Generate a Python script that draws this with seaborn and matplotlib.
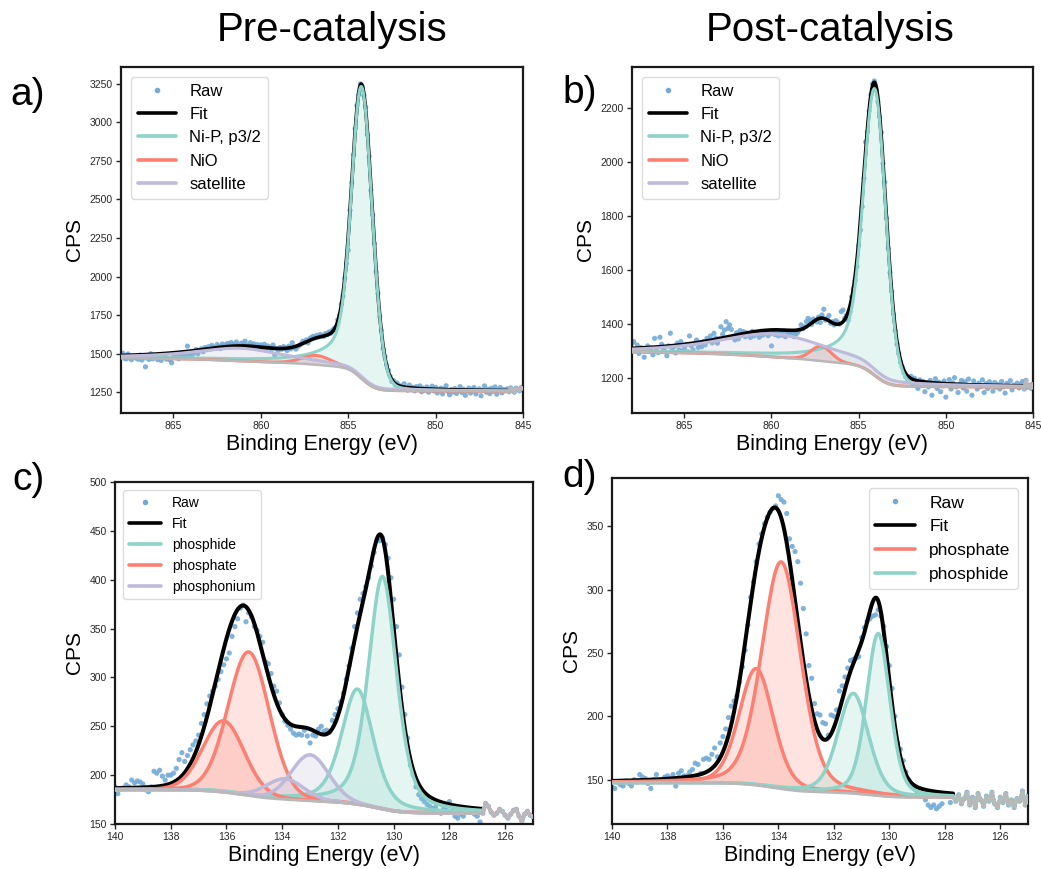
import numpy as np
import matplotlib
matplotlib.use("Agg")
import matplotlib.pyplot as plt
from matplotlib.lines import Line2D
import seaborn as sns

# ---------------------------------------------------------------- styling
sns.set_theme(style="ticks")
plt.rcParams["font.family"] = ["Liberation Sans", "DejaVu Sans"]
plt.rcParams["text.color"] = "black"
plt.rcParams["axes.labelcolor"] = "black"

TEAL, SALMON, LAVENDER = "#8dd3c7", "#fb8072", "#bebada"
RAW_BLUE = "#72aad6"
BG_GREY = "#b8b8b8"

# ---------------------------------------------------------------- Ni 2p, pre-catalysis
ni_pre_scan = (868.0, 845.0)          # first / last energy of the 0.1 eV scan
ni_pre_window = (868.0, 845.9)        # fitted region
ni_pre_shirley = (1470, 1255)         # background end points (high BE, low BE)
ni_pre_counts = [
    1478, 1502, 1470, 1465, 1497, 1472, 1460, 1481, 1476, 1468,
    1463, 1490, 1458, 1475, 1414, 1470, 1462, 1499, 1466, 1472,
    1487, 1460, 1471, 1455, 1478, 1490, 1464, 1469, 1458, 1440,
    1483, 1495, 1474, 1466, 1490, 1503, 1479, 1497, 1548, 1485,
    1503, 1494, 1509, 1526, 1499, 1520, 1531, 1512, 1538, 1525,
    1544, 1529, 1553, 1540, 1535, 1558, 1547, 1532, 1562, 1550,
    1557, 1566, 1549, 1571, 1560, 1553, 1575, 1558, 1546, 1568,
    1561, 1580, 1555, 1549, 1570, 1552, 1563, 1545, 1558, 1540,
    1556, 1537, 1560, 1528, 1549, 1541, 1526, 1555, 1490, 1532,
    1521, 1539, 1528, 1545, 1533, 1519, 1548, 1530, 1570, 1541,
    1529, 1544, 1553, 1562, 1580, 1574, 1588, 1569, 1597, 1605,
    1612, 1603, 1618, 1609, 1624, 1615, 1611, 1630, 1622, 1640,
    1632, 1652, 1663, 1671, 1719, 1748, 1822, 1875, 1990, 2085,
    2170, 2430, 2610, 2790, 2960, 3110, 3180, 3250, 3230, 3175,
    3100, 2920, 2780, 2560, 2400, 2213, 2030, 1890, 1740, 1650,
    1530, 1480, 1425, 1391, 1352, 1318, 1324, 1296, 1309, 1281,
    1290, 1266, 1304, 1273, 1262, 1295, 1270, 1281, 1258, 1285,
    1266, 1290, 1252, 1275, 1261, 1283, 1249, 1270, 1288, 1257,
    1280, 1244, 1262, 1275, 1238, 1269, 1291, 1255, 1232, 1266,
    1250, 1273, 1241, 1262, 1285, 1247, 1268, 1229, 1259, 1276,
    1244, 1266, 1280, 1238, 1257, 1271, 1226, 1262, 1290, 1249,
    1268, 1240, 1275, 1255, 1283, 1236, 1262, 1279, 1245, 1266,
    1258, 1271, 1252, 1277, 1262, 1249, 1275, 1266, 1258, 1280, 1270,
]
ni_pre_names = ["Ni-P, p3/2", "NiO", "satellite"]
ni_pre_group = [0, 1, 2]
ni_pre_centers = [854.24, 856.8, 861.1]
ni_pre_heights = [1895, 60, 82]
ni_pre_fwhm = [1.45, 2.0, 6.4]        # low-BE side
ni_pre_eta = [0.1, 0.2, 0.9]
ni_pre_fwhm_hi = [1.25, 2.0, 6.4]     # high-BE side
ni_pre_eta_hi = [0.2, 0.2, 0.9]
ni_pre_tail_hi = [2.8, 2.0, 6.4]

# ---------------------------------------------------------------- Ni 2p, post-catalysis
ni_post_scan = (868.0, 845.0)
ni_post_window = (868.0, 845.6)
ni_post_shirley = (1295, 1165)
ni_post_counts = [
    1328, 1334, 1303, 1321, 1290, 1312, 1308, 1276, 1299, 1318,
    1297, 1311, 1285, 1346, 1309, 1293, 1350, 1324, 1302, 1297,
    1281, 1318, 1365, 1306, 1315, 1292, 1328, 1303, 1334, 1300,
    1309, 1322, 1296, 1355, 1318, 1303, 1327, 1340, 1312, 1321,
    1315, 1334, 1322, 1346, 1338, 1355, 1329, 1365, 1347, 1328,
    1344, 1389, 1361, 1377, 1408, 1383, 1396, 1379, 1352, 1340,
    1367, 1344, 1375, 1358, 1371, 1352, 1366, 1360, 1349, 1372,
    1355, 1368, 1361, 1350, 1372, 1358, 1364, 1365, 1356, 1362,
    1318, 1366, 1360, 1371, 1355, 1363, 1358, 1374, 1352, 1361,
    1365, 1357, 1370, 1352, 1362, 1368, 1377, 1396, 1382, 1389,
    1408, 1420, 1413, 1398, 1418, 1412, 1407, 1425, 1405, 1433,
    1454, 1414, 1420, 1431, 1402, 1408, 1396, 1412, 1405, 1399,
    1445, 1451, 1420, 1431, 1413, 1445, 1500, 1530, 1561, 1612,
    1690, 1748, 1835, 1941, 2075, 2112, 2190, 2250, 2290, 2301,
    2268, 2225, 2168, 2110, 1995, 1926, 1792, 1680, 1590, 1520,
    1435, 1375, 1325, 1290, 1258, 1239, 1218, 1203, 1196, 1188,
    1205, 1180, 1198, 1176, 1160, 1192, 1172, 1186, 1148, 1179,
    1166, 1190, 1135, 1175, 1196, 1160, 1183, 1148, 1170, 1188,
    1128, 1172, 1193, 1158, 1181, 1200, 1166, 1145, 1177, 1190,
    1162, 1185, 1150, 1195, 1170, 1135, 1188, 1173, 1158, 1180,
    1167, 1192, 1145, 1178, 1160, 1185, 1171, 1150, 1182, 1165,
    1175, 1158, 1186, 1166, 1143, 1179, 1170, 1189, 1155, 1173,
    1168, 1180, 1162, 1175, 1186, 1158, 1190, 1165, 1172, 1160, 1177,
]
ni_post_names = ["Ni-P, p3/2", "NiO", "satellite"]
ni_post_group = [0, 1, 2]
ni_post_centers = [854.08, 857.15, 859.8]
ni_post_heights = [1064, 55, 86]
ni_post_fwhm = [1.48, 1.4, 7.5]
ni_post_eta = [0.1, 0.1, 0.7]
ni_post_fwhm_hi = [1.4, 1.4, 7.5]
ni_post_eta_hi = [0.25, 0.1, 0.7]
ni_post_tail_hi = [2.8, 1.4, 7.5]

# ---------------------------------------------------------------- P 2p, pre-catalysis
p_pre_scan = (140.0, 125.0)
p_pre_window = (140.0, 126.8)
p_pre_shirley = (185, 161)
p_pre_counts = [
    188, 181, 186, 187, 190, 188, 195, 192, 194, 193,
    191, 185, 183, 188, 204, 202, 205, 199, 195, 200,
    200, 202, 207, 216, 223, 214, 220, 226, 231, 235,
    241, 253, 262, 273, 281, 286, 291, 298, 306, 313,
    319, 325, 342, 352, 360, 371, 374, 357, 366, 362,
    352, 348, 342, 336, 316, 314, 304, 291, 286, 274,
    262, 255, 251, 247, 243, 241, 242, 241, 246, 240,
    233, 241, 240, 247, 250, 245, 246, 244, 256, 262,
    268, 275, 284, 298, 312, 330, 352, 366, 380, 386,
    393, 402, 414, 428, 441, 440, 443, 436, 422, 402,
    380, 352, 323, 290, 262, 238, 210, 200, 188, 180,
    176, 173, 170, 168, 166, 167, 163, 161, 166, 164,
    173, 163, 158, 156, 160, 158, 166, 165, 164, 160,
    158, 152, 161,
    171, 168, 162, 159, 161, 165, 163, 159, 156, 160,
    164, 165, 158, 153, 160, 163, 159, 157,
]
p_pre_names = ["phosphide", "phosphate", "phosphonium"]
p_pre_group = [0, 0, 1, 1, 2, 2]
p_pre_centers = [130.4, 131.3, 135.2, 136.1, 133.0, 133.9]
p_pre_heights = [238, 118, 147, 73, 47, 21]
p_pre_fwhm = [1.2, 1.35, 1.75, 1.75, 1.6, 1.6]
p_pre_eta = [0.45, 0.45, 0.1, 0.1, 0.1, 0.1]

# ---------------------------------------------------------------- P 2p, post-catalysis
p_post_scan = (140.0, 125.0)
p_post_window = (140.0, 127.7)
p_post_shirley = (147.5, 136)
p_post_counts = [
    144, 143, 148, 146, 145, 149, 147, 145, 150, 148,
    154, 152, 151, 147, 143, 150, 154, 149, 149, 152,
    153, 151, 154, 145, 155, 157, 153, 153, 156, 158,
    163, 162, 155, 166, 167, 166, 170, 175, 168, 179,
    184, 190, 199, 208, 212, 216, 227, 239, 252, 272,
    294, 306, 322, 336, 344, 352, 357, 361, 364, 366,
    374, 371, 369, 360, 340, 334, 330, 322, 305, 285,
    265, 240, 230, 210, 202, 201, 195, 194, 185, 201,
    200, 205, 220, 224, 231, 238, 244, 245, 246, 247,
    262, 270, 275, 277, 279, 280, 284, 279, 271, 255,
    240, 222, 200, 179, 174, 165, 156, 150, 146, 143,
    139, 137, 138, 134, 130, 128, 130, 127, 129, 131,
    138, 137, 132, 137, 133, 138, 131, 135, 140, 130,
    136, 128, 139, 134, 129, 137, 133, 140, 131, 128,
    136, 132, 139, 130, 134, 128, 135, 133, 141, 130, 137,
]
p_post_names = ["phosphate", "phosphide"]
p_post_group = [0, 0, 1, 1]
p_post_centers = [133.9, 134.8, 130.4, 131.3]
p_post_heights = [179, 92, 128, 79]
p_post_fwhm = [1.65, 1.45, 1.0, 1.3]
p_post_eta = [0.25, 0.25, 0.3, 0.3]


# ---------------------------------------------------------------- line shapes
def pseudo_voigt(x, center, height, fwhm, eta, fwhm_hi, eta_hi, tail_hi):
    """Pseudo-Voigt peak; the high binding-energy side may have its own shape."""
    d = x - center
    up = d > 0
    g_w = np.where(up, fwhm_hi, fwhm)
    l_w = np.where(up, tail_hi, fwhm)
    m = np.where(up, eta_hi, eta)
    gauss = np.exp(-4.0 * np.log(2.0) * (d / g_w) ** 2)
    lor = 1.0 / (1.0 + 4.0 * (d / l_w) ** 2)
    return height * ((1.0 - m) * gauss + m * lor)


def shirley(x, signal, high, low):
    """Shirley-type step: x ascending, integrated from the low-BE end."""
    area = np.concatenate([[0.0], np.cumsum(0.5 * (signal[1:] + signal[:-1]) * np.diff(x))])
    return low + (high - low) * area / area[-1]


def draw_panel(ax, scan, counts, window, ends, names, colors, group, centers,
               heights, fwhm, eta, fwhm_hi=None, eta_hi=None, tail_hi=None,
               xlim=None, xticks=None, ylim=None, yticks=None,
               legend_loc="upper left", legend_size=12, lw=2.2):
    counts = np.asarray(counts, dtype=float)
    energy = np.linspace(scan[0], scan[1], len(counts))
    fwhm_hi = fwhm if fwhm_hi is None else fwhm_hi
    eta_hi = eta if eta_hi is None else eta_hi
    tail_hi = fwhm_hi if tail_hi is None else tail_hi

    xf = np.linspace(window[1], window[0], 1500)
    comps = [pseudo_voigt(xf, c, h, w, m, wh, mh, th)
             for c, h, w, m, wh, mh, th in zip(centers, heights, fwhm, eta,
                                                 fwhm_hi, eta_hi, tail_hi)]
    total = np.sum(comps, axis=0)
    bg = shirley(xf, total, ends[0], ends[1])

    # outside the fitted region the component traces follow the measured counts
    tail = energy < window[1] - 1e-6
    tx, ty = energy[tail], counts[tail]

    sns.scatterplot(x=energy, y=counts, ax=ax, s=14, color=RAW_BLUE,
                    edgecolor="none", alpha=0.9, zorder=1, legend=False)
    sns.lineplot(x=xf, y=bg + total, ax=ax, color="black", lw=lw + 0.4,
                 zorder=3, legend=False)
    for comp, g in zip(comps, group):
        col = colors[g]
        ax.fill_between(xf, bg, bg + comp, color=col, alpha=0.22, lw=0, zorder=2)
        sns.lineplot(x=np.concatenate([xf, tx]), y=np.concatenate([bg + comp, ty]),
                     ax=ax, color=col, lw=lw, zorder=4, legend=False)
    sns.lineplot(x=np.concatenate([xf, tx]), y=np.concatenate([bg, ty]), ax=ax,
                 color=BG_GREY, lw=lw - 0.4, zorder=5, legend=False)

    handles = [Line2D([], [], ls="none", marker="o", markersize=4,
                      markerfacecolor=RAW_BLUE, markeredgecolor="none"),
               Line2D([], [], color="black", lw=2.6)]
    handles += [Line2D([], [], color=colors[i], lw=2.6) for i in range(len(names))]
    ax.legend(handles, ["Raw", "Fit"] + names, loc=legend_loc, fontsize=legend_size,
              frameon=True, fancybox=True, framealpha=0.85, edgecolor="#d6d6d6",
              handlelength=2.3, borderaxespad=0.6)

    ax.set_xlim(*xlim)
    ax.set_ylim(*ylim)
    ax.set_xticks(xticks)
    ax.set_yticks(yticks)
    ax.set_xlabel("Binding Energy (eV)", fontsize=15.5, labelpad=2)
    ax.set_ylabel("CPS", fontsize=15, labelpad=4)
    ax.tick_params(axis="both", direction="out", length=3.5, width=1,
                   labelsize=7.5, colors="#262626", pad=2.5)
    for sp in ax.spines.values():
        sp.set_linewidth(1.6)
        sp.set_color("#1a1a1a")


# ---------------------------------------------------------------- figure
fig = plt.figure(figsize=(10.41, 8.69), dpi=100)
W, H = 1041.0, 869.0


def axes_px(left, top, right, bottom):
    return fig.add_axes([left / W, 1 - bottom / H, (right - left) / W, (bottom - top) / H])


ax_a = axes_px(121, 67, 523, 413)
ax_b = axes_px(632, 67, 1033, 413)
ax_c = axes_px(115, 482, 533, 824)
ax_d = axes_px(612, 478, 1028, 824)

draw_panel(ax_a, ni_pre_scan, ni_pre_counts, ni_pre_window, ni_pre_shirley,
           ni_pre_names, [TEAL, SALMON, LAVENDER], ni_pre_group, ni_pre_centers,
           ni_pre_heights, ni_pre_fwhm, ni_pre_eta, ni_pre_fwhm_hi, ni_pre_eta_hi,
           ni_pre_tail_hi, xlim=(868, 845), xticks=[865, 860, 855, 850, 845],
           ylim=(1114, 3360), yticks=np.arange(1250, 3251, 250))
draw_panel(ax_b, ni_post_scan, ni_post_counts, ni_post_window, ni_post_shirley,
           ni_post_names, [TEAL, SALMON, LAVENDER], ni_post_group, ni_post_centers,
           ni_post_heights, ni_post_fwhm, ni_post_eta, ni_post_fwhm_hi, ni_post_eta_hi,
           ni_post_tail_hi, xlim=(868, 845), xticks=[865, 860, 855, 850, 845],
           ylim=(1069, 2353), yticks=np.arange(1200, 2201, 200))
draw_panel(ax_c, p_pre_scan, p_pre_counts, p_pre_window, p_pre_shirley,
           p_pre_names, [TEAL, SALMON, LAVENDER], p_pre_group, p_pre_centers,
           p_pre_heights, p_pre_fwhm, p_pre_eta, xlim=(140, 125),
           xticks=np.arange(140, 125, -2), ylim=(150, 500),
           yticks=np.arange(150, 501, 50), legend_size=10, lw=2.5)
draw_panel(ax_d, p_post_scan, p_post_counts, p_post_window, p_post_shirley,
           p_post_names, [SALMON, TEAL], p_post_group, p_post_centers,
           p_post_heights, p_post_fwhm, p_post_eta, xlim=(140, 125),
           xticks=np.arange(140, 125, -2), ylim=(115, 388),
           yticks=np.arange(150, 351, 50), legend_loc="upper right",
           legend_size=12.5, lw=2.5)

fig.text(332 / W, 1 - 30 / H, "Pre-catalysis", ha="center", va="center", fontsize=29)
fig.text(830 / W, 1 - 30 / H, "Post-catalysis", ha="center", va="center", fontsize=29)
for label, (px, py) in zip(["a)", "b)", "c)", "d)"],
                           [(28, 95), (580, 93), (28, 480), (580, 477)]):
    fig.text(px / W, 1 - py / H, label, ha="center", va="center", fontsize=28)

fig.savefig("out.png", dpi=100)
